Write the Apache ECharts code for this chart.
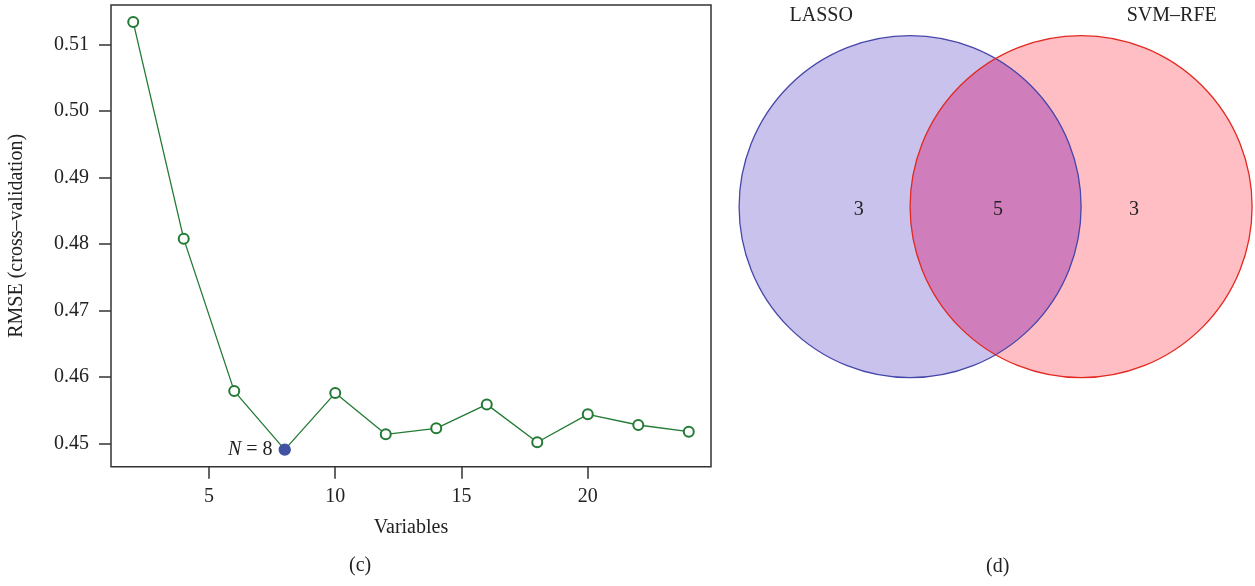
<!DOCTYPE html>
<html>
<head>
<meta charset="utf-8">
<script src="https://cdn.jsdelivr.net/npm/echarts@6/dist/echarts.min.js"></script>
<style>
html,body{margin:0;padding:0;background:#fff;}
#main{width:1255px;height:586px;}
</style>
</head>
<body>
<div id="main"></div>
<script>
// ---- data ----
const variables = [2, 4, 6, 8, 10, 12, 14, 16, 18, 20, 22, 24];
const rmse = [0.5134, 0.4808, 0.4579, 0.4491, 0.4576, 0.4514, 0.4523, 0.4559, 0.4502, 0.4544, 0.4528, 0.4518];
const xTicks = [5, 10, 15, 20];
const yTicks = [0.45, 0.46, 0.47, 0.48, 0.49, 0.50, 0.51];
const setNames = ['LASSO', 'SVM\u2013RFE'];
const vennCounts = [3, 5, 3]; // LASSO only, both, SVM-RFE only
const captions = ['(c)', '(d)'];

const FONT = '"Liberation Serif", "DejaVu Serif", serif';
const TXT = '#222';

function ext(arr) {
  const mn = Math.min(...arr), mx = Math.max(...arr), r = mx - mn;
  return [mn - 0.04 * r, mx + 0.04 * r];
}
const xr = ext(variables), yr = ext(rmse);
let best = 0;
rmse.forEach((v, i) => { if (v < rmse[best]) best = i; });

const lineData = variables.map((x, i) => {
  const item = { value: [x, rmse[i]] };
  if (i === best) {
    item.symbol = 'circle';
    item.symbolSize = 11;
    item.itemStyle = { color: '#4252a3', borderColor: '#4252a3' };
    item.label = {
      show: true, position: 'left', distance: 6,
      formatter: '{i|N} = ' + x,
      color: TXT, fontFamily: FONT, fontSize: 20,
      rich: { i: { fontStyle: 'italic', fontFamily: FONT, fontSize: 20, color: TXT } }
    };
  }
  return item;
});

const chart = echarts.init(document.getElementById('main'), null, { renderer: 'canvas' });

function vennRender(params, api) {
  const c1 = api.coord([-0.5, 0]);
  const c2 = api.coord([0.5, 0]);
  const r = api.size([1, 1])[0];
  const d = c2[0] - c1[0];
  const th = Math.acos((d / 2) / r);
  const pts = [];
  const N = 80;
  for (let k = 0; k <= N; k++) {
    const a = -th + 2 * th * k / N;
    pts.push([c1[0] + r * Math.cos(a), c1[1] + r * Math.sin(a)]);
  }
  for (let k = 0; k <= N; k++) {
    const a = Math.PI - th + 2 * th * k / N;
    pts.push([c2[0] + r * Math.cos(a), c2[1] + r * Math.sin(a)]);
  }
  const labelPos = [[-0.80, -0.02], [0.014, -0.02], [0.81, -0.02]];
  const namePos = [[-1.02, 1.115], [1.03, 1.115]];
  const children = [
    { type: 'circle', shape: { cx: c1[0], cy: c1[1], r: r }, style: { fill: '#c8c2ec' } },
    { type: 'circle', shape: { cx: c2[0], cy: c2[1], r: r }, style: { fill: '#ffbec3' } },
    { type: 'polygon', shape: { points: pts }, style: { fill: '#cf7dbb' } },
    { type: 'circle', shape: { cx: c1[0], cy: c1[1], r: r }, style: { fill: null, stroke: '#4646aa', lineWidth: 1.3 } },
    { type: 'circle', shape: { cx: c2[0], cy: c2[1], r: r }, style: { fill: null, stroke: '#e2281f', lineWidth: 1.3 } }
  ];
  vennCounts.forEach((v, i) => {
    const p = api.coord(labelPos[i]);
    children.push({ type: 'text', x: p[0], y: p[1], style: { text: String(v), fill: TXT, font: '20px ' + FONT, textAlign: 'center', textVerticalAlign: 'middle' } });
  });
  setNames.forEach((n, i) => {
    const p = api.coord(namePos[i]);
    children.push({ type: 'text', x: p[0], y: p[1], style: { text: n, fill: TXT, font: '20px ' + FONT, textAlign: 'center', textVerticalAlign: 'middle' } });
  });
  return { type: 'group', children: children };
}

const option = {
  backgroundColor: '#fff',
  animation: false,
  textStyle: { fontFamily: FONT },
  grid: [
    { left: 111, top: 5, width: 600, height: 461.7, show: true, borderColor: '#333', borderWidth: 1.5, backgroundColor: 'transparent' },
    { left: 739.1, top: 35.7, width: 513, height: 342, show: false }
  ],
  xAxis: [
    {
      gridIndex: 0, type: 'value', min: xr[0], max: xr[1],
      name: 'Variables', nameLocation: 'middle', nameGap: 51,
      nameTextStyle: { fontFamily: FONT, fontSize: 20, color: TXT },
      axisLine: { show: false },
      axisTick: { show: true, length: 12, customValues: xTicks, lineStyle: { color: '#333', width: 1.5 } },
      axisLabel: { customValues: xTicks, margin: 20, fontFamily: FONT, fontSize: 20, color: TXT },
      splitLine: { show: false }
    },
    { gridIndex: 1, type: 'value', min: -1.5, max: 1.5, show: false }
  ],
  yAxis: [
    {
      gridIndex: 0, type: 'value', min: yr[0], max: yr[1],
      name: 'RMSE (cross\u2013validation)', nameLocation: 'middle', nameGap: 84,
      nameTextStyle: { fontFamily: FONT, fontSize: 20, color: TXT },
      axisLine: { show: false },
      axisTick: { show: true, length: 12, customValues: yTicks, lineStyle: { color: '#333', width: 1.5 } },
      axisLabel: { customValues: yTicks, margin: 22, fontFamily: FONT, fontSize: 20, color: TXT, formatter: v => v.toFixed(2) },
      splitLine: { show: false }
    },
    { gridIndex: 1, type: 'value', min: -1, max: 1, show: false }
  ],
  graphic: [
    { type: 'text', left: 349, top: 556, style: { text: captions[0], font: '20px ' + FONT, fill: TXT } },
    { type: 'text', left: 986, top: 557, style: { text: captions[1], font: '20px ' + FONT, fill: TXT } }
  ],
  series: [
    {
      type: 'line', xAxisIndex: 0, yAxisIndex: 0,
      data: lineData,
      symbol: 'emptyCircle', symbolSize: 10,
      lineStyle: { color: '#237a35', width: 1.3 },
      itemStyle: { color: '#237a35', borderWidth: 1.4 },
      z: 3
    },
    {
      type: 'custom', xAxisIndex: 1, yAxisIndex: 1,
      data: [[0, 0]],
      renderItem: vennRender,
      silent: true
    }
  ]
};
chart.setOption(option);
</script>
</body>
</html>
